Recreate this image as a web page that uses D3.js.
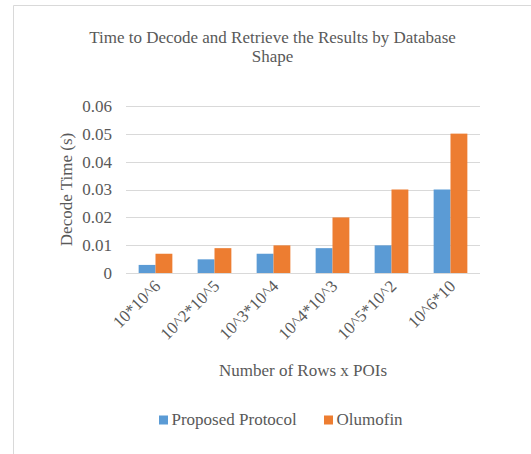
<!DOCTYPE html>
<html>
<head>
<meta charset="utf-8">
<script src="https://cdn.jsdelivr.net/npm/d3@7"></script>
<style>
  html, body { margin: 0; padding: 0; background: #fff; }
</style>
</head>
<body>
<svg id="chart" width="531" height="454"></svg>
<script>
const categories = ["10*10^6", "10^2*10^5", "10^3*10^4", "10^4*10^3", "10^5*10^2", "10^6*10"];
const seriesNames = ["Proposed Protocol", "Olumofin"];
const proposedProtocol = [0.003, 0.005, 0.007, 0.009, 0.01, 0.03];
const olumofin = [0.007, 0.009, 0.01, 0.02, 0.03, 0.05];
const yTicks = [0, 0.01, 0.02, 0.03, 0.04, 0.05, 0.06];
const yTickLabels = ["0", "0.01", "0.02", "0.03", "0.04", "0.05", "0.06"];
const titleLines = ["Time to Decode and Retrieve the Results by Database", "Shape"];
const xTitle = "Number of Rows x POIs";
const yTitle = "Decode Time (s)";
const colors = ["#5B9BD5", "#ED7D31"];

const FONT = "'Times New Roman', 'Liberation Serif', Times, serif";
const series = [proposedProtocol, olumofin];
const svg = d3.select("#chart").attr("font-family", FONT);
const W = 531, H = 454;
svg.append("rect").attr("width", W).attr("height", H).attr("fill", "#fff");

// frame (cropped chart border)
svg.append("path").attr("d", "M13.5,454 V5.5 H531").attr("fill", "none")
  .attr("stroke", "#d9d9d9").attr("stroke-width", 1);

const plot = { left: 126, right: 480, top: 105.7, bottom: 273.3 };
const y = d3.scaleLinear().domain([0, 0.06]).range([plot.bottom, plot.top]);
const x = d3.scaleBand().domain(categories).range([plot.left, plot.right]).paddingInner(0).paddingOuter(0);
const cw = x.bandwidth();
const barW = cw / 3.5;
const xs = d3.scaleBand().domain(seriesNames).range([barW * 0.75, cw - barW * 0.75]).padding(0);

function txt(sel) {
  return sel.attr("font-family", FONT).attr("fill", "#595959").attr("font-size", 17);
}

// gridlines
svg.append("g").selectAll("line").data(yTicks).join("line")
  .attr("x1", plot.left).attr("x2", plot.right)
  .attr("y1", d => Math.round(y(d)) + 0.5).attr("y2", d => Math.round(y(d)) + 0.5)
  .attr("stroke", "#d9d9d9").attr("stroke-width", 1);

// y tick labels
txt(svg.append("g").selectAll("text").data(yTicks).join("text"))
  .attr("x", 112).attr("y", d => y(d)).attr("dy", "0.35em")
  .attr("text-anchor", "end")
  .text((d, i) => yTickLabels[i]);

// bars
const g = svg.append("g");
seriesNames.forEach((name, si) => {
  g.selectAll(".s" + si).data(series[si]).join("rect")
    .attr("class", "s" + si)
    .attr("x", (d, i) => x(categories[i]) + xs(name))
    .attr("width", xs.bandwidth())
    .attr("y", d => y(d))
    .attr("height", d => y(0) - y(d))
    .attr("fill", colors[si]);
});

// axis line
svg.append("line").attr("x1", plot.left).attr("x2", plot.right)
  .attr("y1", Math.round(y(0)) + 0.5).attr("y2", Math.round(y(0)) + 0.5)
  .attr("stroke", "#d9d9d9").attr("stroke-width", 1);

// x tick labels
txt(svg.append("g").selectAll("text").data(categories).join("text"))
  .attr("transform", d => `translate(${x(d) + cw / 2 + 6},${plot.bottom + 14}) rotate(-45)`)
  .attr("text-anchor", "end")
  .text(d => d);

// title
txt(svg.append("text")).attr("x", 272.5).attr("y", 43).attr("text-anchor", "middle")
  .selectAll("tspan").data(titleLines).join("tspan")
  .attr("x", 272.5).attr("dy", (d, i) => i === 0 ? 0 : 19).text(d => d);

// axis titles
txt(svg.append("text")).attr("x", (plot.left + plot.right) / 2).attr("y", 376)
  .attr("text-anchor", "middle").text(xTitle);
txt(svg.append("text")).attr("transform", `translate(72,${(plot.top + plot.bottom) / 2}) rotate(-90)`)
  .attr("text-anchor", "middle").text(yTitle);

// legend
const legendItems = [
  { name: seriesNames[0], color: colors[0], x: 159 },
  { name: seriesNames[1], color: colors[1], x: 324 }
];
const lg = svg.append("g");
legendItems.forEach(it => {
  lg.append("rect").attr("x", it.x).attr("y", 415.5).attr("width", 9).attr("height", 9).attr("fill", it.color);
  txt(lg.append("text")).attr("x", it.x + 12.5).attr("y", 425).text(it.name);
});
</script>
</body>
</html>
